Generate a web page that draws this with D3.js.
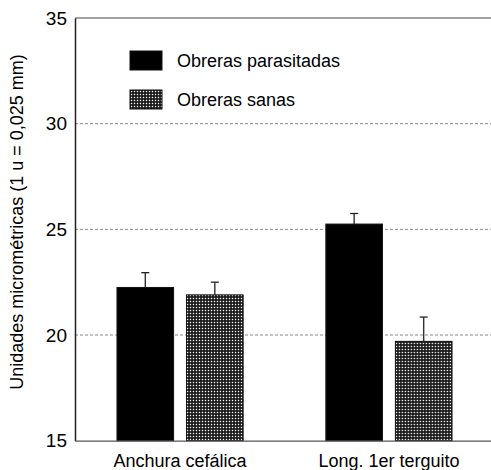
<!DOCTYPE html>
<html>
<head>
<meta charset="utf-8">
<script src="https://cdn.jsdelivr.net/npm/d3@7"></script>
<style>
  html, body { margin: 0; padding: 0; background: #fff; }
  svg { display: block; font-family: "Liberation Sans", Arial, sans-serif; }
</style>
</head>
<body>
<div id="chart"></div>
<script>
// Medidas de obreras parasitadas vs sanas (barras con error hacia arriba)
const categories = ['Anchura cefálica', 'Long. 1er terguito'];
const series = ['Obreras parasitadas', 'Obreras sanas'];
const parasitadas = [22.25, 25.25];
const parasitadasErr = [0.7, 0.5];
const sanas = [21.9, 19.7];
const sanasErr = [0.6, 1.15];
const yTicks = [15, 20, 25, 30, 35];

const W = 491, H = 470;
const mLeft = 75, mTop = 18, mBottom = 440.7, mRight = 494;

const svg = d3.select('#chart').append('svg')
  .attr('width', W).attr('height', H);

// punteado para "sanas"
const defs = svg.append('defs');
const pat = defs.append('pattern')
  .attr('id', 'dots').attr('patternUnits', 'userSpaceOnUse')
  .attr('width', 3).attr('height', 3);
pat.append('rect').attr('width', 3).attr('height', 3).attr('fill', '#111');
pat.append('rect').attr('x', 0.8).attr('y', 0.8).attr('width', 1.4).attr('height', 1.4).attr('fill', '#fff');

const y = d3.scaleLinear().domain([15, 35]).range([mBottom, mTop]);
const x0 = d3.scaleBand().domain(categories).range([mLeft, mRight])
  .paddingInner(0.396).paddingOuter(0.201);
const x1 = d3.scaleBand().domain(series).range([0, x0.bandwidth()])
  .paddingInner(0.186).paddingOuter(0);

// rejilla punteada
svg.append('g').selectAll('line')
  .data(yTicks.filter(t => t > 15 && t < 35))
  .join('line')
  .attr('x1', mLeft).attr('x2', W)
  .attr('y1', d => y(d)).attr('y2', d => y(d))
  .attr('stroke', '#888').attr('stroke-width', 1)
  .attr('stroke-dasharray', '3,2');

// línea superior
svg.append('line')
  .attr('x1', mLeft).attr('x2', W).attr('y1', y(35)).attr('y2', y(35))
  .attr('stroke', '#444').attr('stroke-width', 1.2);

const rows = categories.map((c, i) => ({
  cat: c,
  vals: [
    { s: series[0], v: parasitadas[i], e: parasitadasErr[i] },
    { s: series[1], v: sanas[i], e: sanasErr[i] }
  ]
}));

const fillFor = s => s === series[0] ? '#000' : 'url(#dots)';

const grp = svg.append('g').selectAll('g')
  .data(rows).join('g')
  .attr('transform', d => `translate(${x0(d.cat)},0)`);

// barras de error (solo hacia arriba)
grp.selectAll('line.err')
  .data(d => d.vals).join('line')
  .attr('class', 'err')
  .attr('x1', d => x1(d.s) + x1.bandwidth() / 2)
  .attr('x2', d => x1(d.s) + x1.bandwidth() / 2)
  .attr('y1', d => y(d.v)).attr('y2', d => y(d.v + d.e))
  .attr('stroke', '#222').attr('stroke-width', 1.3);
grp.selectAll('line.cap')
  .data(d => d.vals).join('line')
  .attr('class', 'cap')
  .attr('x1', d => x1(d.s) + x1.bandwidth() / 2 - 4)
  .attr('x2', d => x1(d.s) + x1.bandwidth() / 2 + 4)
  .attr('y1', d => y(d.v + d.e)).attr('y2', d => y(d.v + d.e))
  .attr('stroke', '#222').attr('stroke-width', 1.3);

grp.selectAll('rect')
  .data(d => d.vals).join('rect')
  .attr('x', d => x1(d.s))
  .attr('y', d => y(d.v))
  .attr('width', x1.bandwidth())
  .attr('height', d => y(15) - y(d.v))
  .attr('fill', d => fillFor(d.s))
  .attr('stroke', '#111').attr('stroke-width', 1);

// ejes
const yAxis = svg.append('g')
  .attr('transform', `translate(${mLeft},0)`)
  .call(d3.axisLeft(y).tickValues(yTicks).tickSize(0).tickPadding(8));
yAxis.select('.domain').attr('stroke', '#222').attr('stroke-width', 1.5);
yAxis.selectAll('text').attr('font-size', 19).attr('fill', '#000')
  .attr('font-family', '"Liberation Sans", Arial, sans-serif');

const xAxis = svg.append('g')
  .attr('transform', `translate(0,${mBottom})`)
  .call(d3.axisBottom(x0).tickSize(0).tickPadding(14));
xAxis.select('.domain').attr('stroke', '#555').attr('stroke-width', 1.2);
xAxis.selectAll('text').attr('font-size', 18).attr('fill', '#000')
  .attr('font-family', '"Liberation Sans", Arial, sans-serif');

// título eje y
svg.append('text')
  .attr('transform', 'translate(23,222) rotate(-90)')
  .attr('text-anchor', 'middle')
  .attr('font-size', 18).attr('fill', '#000')
  .text('Unidades micrométricas (1 u = 0,025 mm)');

// leyenda
const legend = svg.append('g').selectAll('g')
  .data(series).join('g')
  .attr('transform', (d, i) => `translate(130,${51 + i * 39})`);
legend.append('rect')
  .attr('width', 32).attr('height', 19)
  .attr('fill', d => fillFor(d))
  .attr('stroke', '#111').attr('stroke-width', 1);
legend.append('text')
  .attr('x', 47).attr('y', 16)
  .attr('font-size', 18).attr('fill', '#000')
  .text(d => d);
</script>
</body>
</html>
